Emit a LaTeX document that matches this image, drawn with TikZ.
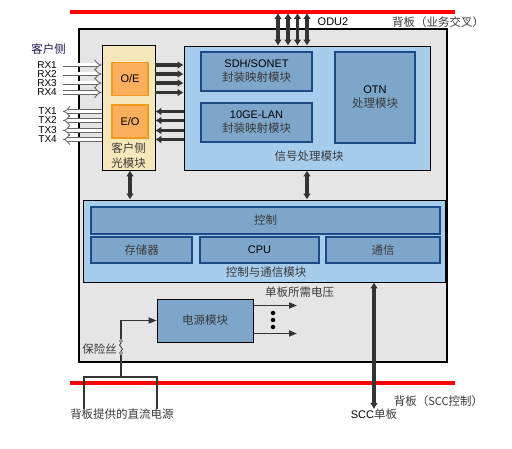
\documentclass[tikz,border=0pt]{standalone}
\usepackage{fontspec}
\setmainfont{Liberation Sans}
\newfontfamily\cjk{Noto Sans CJK SC}
\usepackage{xcolor}
\usepackage{tikz}
\usetikzlibrary{arrows.meta,positioning,calc}
\definecolor{bggray}{HTML}{E5E5E5}
\definecolor{beige}{HTML}{F6E7BA}
\definecolor{orfill}{HTML}{FBAE5C}
\definecolor{oredge}{HTML}{F09A1E}
\definecolor{ltblue}{HTML}{A7CDEC}
\definecolor{midblue}{HTML}{7EA6CA}
\definecolor{dkblue}{HTML}{1B4A86}
\definecolor{arrowgray}{HTML}{333333}
\definecolor{txtgray}{HTML}{3A3A3A}
\newcommand{\lbfont}{\fontsize{11}{14}\selectfont}
\newcommand{\zhfont}{\cjk\fontsize{11.5}{14}\selectfont}
\tikzset{
  en/.style={font=\lbfont,text=black,inner sep=0pt},
  zh/.style={font=\zhfont,text=txtgray,inner sep=0pt},
  board/.style={draw=black,fill=bggray,line width=1.2pt,inner sep=0pt},
  modbox/.style={draw=black,fill=ltblue,line width=0.8pt,inner sep=0pt},
  subbox/.style={draw=dkblue,fill=midblue,line width=1.8pt,inner sep=0pt,align=center,font=\lbfont},
  zhbox/.style={subbox,font=\zhfont,text=txtgray},
  convbox/.style={draw=oredge,fill=orfill,line width=1.8pt,inner sep=0pt,
    minimum width=36pt,minimum height=33pt,font=\fontsize{11}{12}\selectfont},
  redbar/.style={draw=red,line width=4pt},
  bus/.style={draw=arrowgray,line width=3.4pt},
  wire/.style={draw=arrowgray,line width=1.6pt},
  hollow/.style={draw=black!60,line width=0.8pt,double=white,double distance=3pt,
    -{Implies}},
  portlbl/.style={font=\fontsize{10}{9}\selectfont,text=black,anchor=east,inner sep=0pt}
}

\begin{document}
\begin{tikzpicture}[x=1pt, y=-1pt, >={Latex[length=6pt,width=8pt]}]
\useasboundingbox (0,0) rectangle (512,449);

    \coordinate (bpTL) at (70,12);
    \coordinate (bpTR) at (455,12);
    \coordinate (bpBL) at (70,383.5);
    \coordinate (bpBR) at (455,383.5);
    \draw[redbar] (bpTL) -- (bpTR);
    \draw[redbar] (bpBL) -- (bpBR);

    \node[board,minimum width=368pt,minimum height=333pt] (board) at (263,195.5) {};

    \node[draw=black,fill=beige,line width=0.8pt,minimum width=53pt,minimum height=125pt] (client) at (128.5,107.5) {};
    \node[convbox] (oe) at (130,79) {O/E};
    \node[convbox] (eo) at (130,121.5) {E/O};
    \node[zh,align=center,font=\cjk\fontsize{11.5}{15}\selectfont] (clientlbl) at (128.5,155.5) {客户侧\\光模块};

    \node[modbox,minimum width=246pt,minimum height=124pt] (signal) at (307,108) {};
    \node[subbox,minimum width=111pt,minimum height=39pt] (sdh) at (256.5,71.5)
        {SDH/SONET\\{\zhfont\color{txtgray}封装映射模块}};
    \node[subbox,minimum width=111pt,minimum height=39pt] (ge) at (256.5,122.5)
        {10GE-LAN\\{\zhfont\color{txtgray}封装映射模块}};
    \node[subbox,minimum width=80pt,minimum height=91pt] (otn) at (375,97.5)
        {OTN\\{\zhfont\color{txtgray}处理模块}};
    \node[zh] (signallbl) at (309,156) {信号处理模块};

    \node[modbox,minimum width=362pt,minimum height=82pt] (ctrlmod) at (264,241) {};
    \node[zhbox,minimum width=349pt,minimum height=27pt] (ctrl) at (265.5,220.5) {控制};
    \node[zhbox,minimum width=101pt,minimum height=26pt] (mem) at (141.5,250) {存储器};
    \node[subbox,minimum width=119pt,minimum height=26pt] (cpu) at (259.5,250) {CPU};
    \node[zhbox,minimum width=114pt,minimum height=26pt] (comm) at (383,250) {通信};
    \node[zh] (ctrllbl) at (266,272) {控制与通信模块};

    \node[draw=black,fill=midblue,line width=0.8pt,minimum width=96pt,minimum height=43pt,
        font=\zhfont,text=txtgray] (power) at (205,320.5) {电源模块};
    \node[zh] (voltlbl) at (299.5,292) {单板所需电压};

    \node[zh,text=black!70!blue!80!gray] (clientside) at (48.5,49) {客户侧};
    \node[portlbl] (rx1) at (57,65) {RX1};
    \node[portlbl] (rx2) at (57,74) {RX2};
    \node[portlbl] (rx3) at (57,83) {RX3};
    \node[portlbl] (rx4) at (57,92.5) {RX4};
    \node[portlbl] (tx1) at (57,111.5) {TX1};
    \node[portlbl] (tx2) at (57,120.5) {TX2};
    \node[portlbl] (tx3) at (57,130.5) {TX3};
    \node[portlbl] (tx4) at (57,139.5) {TX4};

    \node[en] (odu) at (333,22) {ODU2};
    \node[zh] (bpsvc) at (438,22) {背板（业务交叉）};
    \node[zh] (bpscc) at (438.5,401) {背板（{\lbfont SCC}控制）};
    \node[zh,anchor=north] (sccbrd) at (374,409) {{\rmfamily\lbfont\color{black}SCC}单板};
    \node[zh,anchor=north] (dcsrc) at (122,409) {背板提供的直流电源};
    \node[zh,anchor=east] (fuselbl) at (117,349) {保险丝};

    \coordinate (odu1) at (278,13);
    \coordinate (odu2) at (288,13);
    \coordinate (odu3) at (297.5,13);
    \coordinate (odu4) at (307,13);
    \draw[bus,<->] (odu1) -- (signal.north -| odu1);
    \draw[bus,<->] (odu2) -- (signal.north -| odu2);
    \draw[bus,<->] (odu3) -- (signal.north -| odu3);
    \draw[bus,<->] (odu4) -- (signal.north -| odu4);

    \draw[hollow,shorten <=6pt] (rx1.east) -- (client.west |- rx1);
    \draw[hollow,shorten <=6pt] (rx2.east) -- (client.west |- rx2);
    \draw[hollow,shorten <=6pt] (rx3.east) -- (client.west |- rx3);
    \draw[hollow,shorten <=6pt] (rx4.east) -- (client.west |- rx4);
    \draw[hollow,shorten >=6pt] (client.west |- tx1) -- (tx1.east);
    \draw[hollow,shorten >=6pt] (client.west |- tx2) -- (tx2.east);
    \draw[hollow,shorten >=6pt] (client.west |- tx3) -- (tx3.east);
    \draw[hollow,shorten >=6pt] (client.west |- tx4) -- (tx4.east);

    \draw[bus,->] (client.east |- rx1) -- (signal.west |- rx1);
    \draw[bus,->] (client.east |- rx2) -- (signal.west |- rx2);
    \draw[bus,->] (client.east |- rx3) -- (signal.west |- rx3);
    \draw[bus,->] (client.east |- rx4) -- (signal.west |- rx4);
    \draw[bus,->] (signal.west |- tx1) -- (client.east |- tx1);
    \draw[bus,->] (signal.west |- tx2) -- (client.east |- tx2);
    \draw[bus,->] (signal.west |- tx3) -- (client.east |- tx3);
    \draw[bus,->] (signal.west |- tx4) -- (client.east |- tx4);

    \draw[bus,<->] (client.south -| oe) -- (ctrlmod.north -| oe);
    \draw[bus,<->] (signal.south) -- (ctrlmod.north -| signal.south);
    \draw[bus,<->] (ctrlmod.south -| sccbrd) -- (sccbrd.north);

    \coordinate (out1) at (297,305.5);
    \coordinate (out2) at (297,333.5);
    \draw[wire,-{Triangle[length=8pt,width=6pt]}] (power.east |- out1) -- (out1);
    \draw[wire,-{Triangle[length=8pt,width=6pt]}] (power.east |- out2) -- (out2);
    \node[circle,fill=black,inner sep=0pt,minimum size=4.5pt] (dot1) at (273,313) {};
    \node[circle,fill=black,inner sep=0pt,minimum size=4.5pt] (dot2) at (273,320) {};
    \node[circle,fill=black,inner sep=0pt,minimum size=4.5pt] (dot3) at (273,327) {};

    \node[circle,draw=arrowgray,fill=white,line width=0.6pt,inner sep=0pt,minimum size=3pt] (fuseT) at (121,341) {};
    \node[circle,draw=arrowgray,fill=white,line width=0.6pt,inner sep=0pt,minimum size=3pt] (fuseB) at (121,353) {};
    \draw[arrowgray,line width=0.8pt] (fuseT.south) .. controls (116,346) and (126,348) .. (fuseB.north);
    \draw[wire,-{Triangle[length=8pt,width=6pt]}] (fuseT.north) |- (power.west);
    \coordinate (busL) at (84,377);
    \coordinate (busR) at (157,377);
    \draw[wire] (fuseB.south) -- (fuseB |- busL);
    \draw[wire] (busL |- dcsrc.north) -- (busL) -- (busR) -- (busR |- dcsrc.north);
\end{tikzpicture}
\end{document}
